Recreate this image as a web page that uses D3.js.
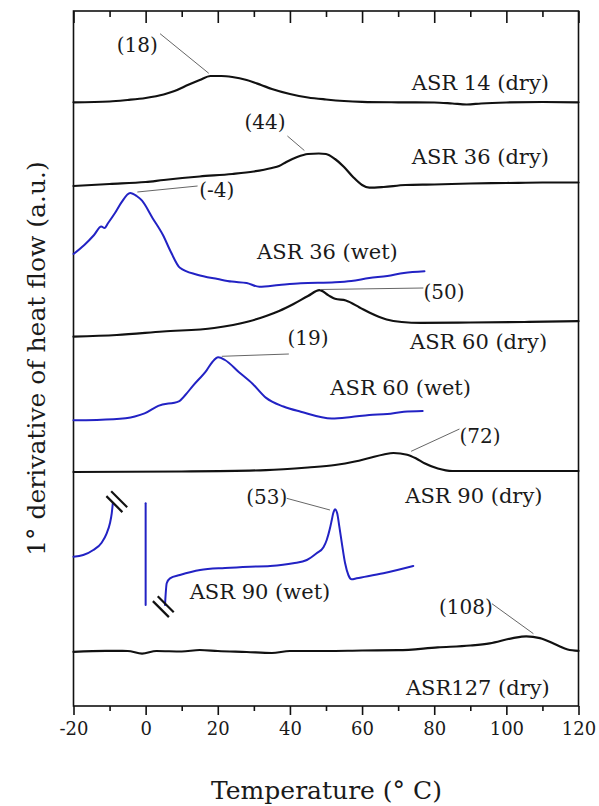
<!DOCTYPE html>
<html><head><meta charset="utf-8">
<script src="https://cdn.jsdelivr.net/npm/d3@7"></script>
<style>
body{margin:0;background:#fff}
svg{display:block}
text{font-family:"DejaVu Serif",serif;fill:#1a1a1a}
</style>
</head><body>
<svg id="c" width="599" height="806"></svg>
<script>
// ---------- data ----------
const xTickValues = [-20, 0, 20, 40, 60, 80, 100, 120];
const xMinorTicks = [-10, 10, 30, 50, 70, 90, 110];

const asr14DryT = [-20,-10,-5,0,5,8,12,15,18,21,24,28,32,35,40,45,50,55,60,70,80,85,89,93,100,110,120];
const asr14DryV = [603.7,604.5,606,608,611.5,615,621.5,626,630,630,629,626,621,617,612,608.5,606.5,605,604.2,603.7,603.5,602.5,601.5,602.5,603.5,604,603.7];

const asr36DryT = [-20,-10,0,5,15,24,30,35,37,39,42,45,48,50,52.5,55,57.5,60,62,66,72,80,90,100,110,120];
const asr36DryV = [520,522,524,526,529.5,532,534.5,538,540,544,549,552,552.5,552,547,539,529,521,518.3,519,521,521.5,522.5,523,523.5,523.5];

const asr36WetT = [-20,-17,-14.3,-12.3,-11.4,-10.4,-8.5,-6.7,-4.3,-2.5,-1,1.9,4.8,7,9.5,14.3,20,23.9,28,31.5,37,43,52.5,57,62,67,71.6,77.3];
const asr36WetV = [452,461,471,479.5,478,483,493,503.6,513,510,505.3,488.1,471,454,438.2,431.3,427,424.4,423,419.3,421,422.7,423.7,425,428,430,433,434.7];

const asr60DryT = [-20,-8,4.8,19,28.5,33.4,37,41,45,48.2,50.7,52.5,55.5,59.3,62,66.8,71,76.3,90,105,120];
const asr60DryV = [369.3,371,374.5,378,384.5,390,395,402,410,415.8,410.6,407.2,405.5,398.6,393.4,386.5,384,383.1,383.5,384,384.8];

const asr60WetT = [-20,-8.9,-3,-0.3,3.5,9.2,11,13.1,16.9,18.5,20.1,22,25.8,29.7,33.4,38.2,43,51.6,57,62,67,71.6,76.8];
const asr60WetV = [285.7,286.8,289.5,292.6,300.2,304.7,311,320.2,335.7,344,348.7,346,334,322,308.1,299.5,294.3,287.5,289,291,292,294.3,295];

const asr90DryT = [-20,10,33.4,45,52.5,58,62,66,68.7,72.5,75,77.3,81,85,100,120];
const asr90DryV = [234,234.5,235.8,238.5,241,244.5,248,251.5,253,251.3,247.5,242.7,237.5,235,235,235];

// ASR 90 (wet): three pieces separated by axis breaks
const asr90WetT1 = [-20,-17.3,-14.5,-12.2,-10.8,-9.9,-9.4,-9.1];
const asr90WetV1 = [149.3,151,156,163.3,172.7,182.7,192.7,202.7];
const asr90WetT2 = [0,0];
const asr90WetV2 = [202.7,101];
const asr90WetT3 = [5.37,5.84,6.75,9.5,15.1,22,28.9,34.5,40.9,44.7,47.4,49.3,50.2,51.1,51.6,52,52.5,53.1,53.7,54.4,55.3,56.2,57.1,58.5,65.9,74.2];
const asr90WetV3 = [101,122.7,127.7,131,136,138,139.3,140,142.7,146,152.7,158.7,166,177.7,186,192.7,196.7,192.7,179.3,162.7,142.7,131,126.7,127.7,132.7,140];
const breakT = [-8.0, 4.9];
const breakV = [204.3, 99.3];

const asr127DryT = [-20,-11,-5,-1,3,10,15,20,28,35,40,50,60,70,81,90,95.4,101.8,105.5,109.3,114,117,120];
const asr127DryV = [54.1,55.1,55,52.4,55,54.5,56,55,54,53,55,55,55.5,55.8,58.6,60.5,62.7,67.9,69.6,67.9,61,56.5,55.1];

// peak annotations
const peakLabels = ["(18)","(44)","(-4)","(50)","(19)","(72)","(53)","(108)"];
const peakTextT  = [-2.3, 33.1, 19.7, 82.7, 45.0, 92.7, 33.6, 88.8];
const peakTextV  = [661.2, 584, 516, 414, 367.6, 270.2, 209.3, 99];
const leadT1 = [4.0, 39.3, 14.4, 77.0, 39.7, 87.0, 39.1, 96.0];
const leadV1 = [672.3, 570, 520, 418, 352, 277, 207.7, 102.3];
const leadT2 = [17.5, 44.0, -2.3, 48.3, 21.1, 73.6, 51.1, 107.5];
const leadV2 = [632.7, 555.5, 514, 416.5, 349.7, 254.7, 196, 72.3];

// series labels
const seriesNames = ["ASR 14 (dry)","ASR 36 (dry)","ASR 36 (wet)","ASR 60 (dry)","ASR 60 (wet)","ASR 90 (dry)","ASR 90 (wet)","ASR127 (dry)"];
const nameT = [92.8, 92.8, 50.4, 92.3, 70.7, 91.0, 31.7, 92.1];
const nameV = [623.4, 549.3, 453.7, 364.2, 318.5, 210, 114, 18];

const xTitle = "Temperature (° C)";
const yTitle = "1° derivative of heat flow (a.u.)";

// ---------- drawing ----------
const svg = d3.select("#c");
const L = 73.5, R = 578.5, T = 11, B = 706;
const x = d3.scaleLinear().domain([-20, 120]).range([L, R]);
const y = d3.scaleLinear().domain([0, 695]).range([B, T]);

const BLACK = "#111", BLUE = "#2222c4";
const zip = (ts, vs) => ts.map((t, i) => ({t, v: vs[i]}));
const smooth = d3.line().x(d => x(d.t)).y(d => y(d.v)).curve(d3.curveMonotoneX);
const straight = d3.line().x(d => x(d.t)).y(d => y(d.v));

// frame
svg.append("rect").attr("x", L).attr("y", T).attr("width", R - L).attr("height", B - T)
  .attr("fill", "none").attr("stroke", "#111").attr("stroke-width", 1.6);

// bottom axis (outward ticks)
const gB = svg.append("g").attr("transform", `translate(0,${B})`)
  .call(d3.axisBottom(x).tickValues(xTickValues).tickSize(9).tickSizeOuter(0).tickFormat(d => String(d)).tickPadding(7));
const gBm = svg.append("g").attr("transform", `translate(0,${B})`)
  .call(d3.axisBottom(x).tickValues(xMinorTicks).tickSize(5).tickFormat(""));
// top axis (inward ticks)
const gT = svg.append("g").attr("transform", `translate(0,${T})`)
  .call(d3.axisBottom(x).tickValues(xTickValues).tickSize(12).tickFormat(""));
const gTm = svg.append("g").attr("transform", `translate(0,${T})`)
  .call(d3.axisBottom(x).tickValues(xMinorTicks).tickSize(6).tickFormat(""));
[gB, gBm, gT, gTm].forEach(g => {
  g.select(".domain").remove();
  g.selectAll("line").attr("stroke", "#111").attr("stroke-width", 1.6);
});
gB.selectAll("text").attr("font-family", "DejaVu Serif").attr("font-size", 18).attr("fill", "#1a1a1a");

// curves
const curves = [
  [asr14DryT, asr14DryV, BLACK, smooth],
  [asr36DryT, asr36DryV, BLACK, smooth],
  [asr36WetT, asr36WetV, BLUE, smooth],
  [asr60DryT, asr60DryV, BLACK, smooth],
  [asr60WetT, asr60WetV, BLUE, smooth],
  [asr90DryT, asr90DryV, BLACK, smooth],
  [asr90WetT1, asr90WetV1, BLUE, smooth],
  [asr90WetT2, asr90WetV2, BLUE, straight],
  [asr90WetT3, asr90WetV3, BLUE, smooth],
  [asr127DryT, asr127DryV, BLACK, smooth]
];
svg.append("g").selectAll("path").data(curves).join("path")
  .attr("d", c => c[3](zip(c[0], c[1])))
  .attr("fill", "none").attr("stroke", c => c[2])
  .attr("stroke-width", c => c[2] === BLACK ? 2.2 : 2)
  .attr("stroke-linejoin", "round").attr("stroke-linecap", "round");

// axis-break marks (double slash)
const brk = svg.append("g");
breakT.forEach((t, i) => {
  const cx = x(t), cy = y(breakV[i]);
  [-2.4, 2.4].forEach(off => {
    brk.append("line")
      .attr("x1", cx - 8 + off).attr("y1", cy - 8 - off)
      .attr("x2", cx + 8 + off).attr("y2", cy + 8 - off)
      .attr("stroke", "#111").attr("stroke-width", 2.2);
  });
});

// leaders + peak labels
const ann = svg.append("g");
peakLabels.forEach((lab, i) => {
  ann.append("line")
    .attr("x1", x(leadT1[i])).attr("y1", y(leadV1[i]))
    .attr("x2", x(leadT2[i])).attr("y2", y(leadV2[i]))
    .attr("stroke", "#666").attr("stroke-width", 1);
  ann.append("text").attr("x", x(peakTextT[i])).attr("y", y(peakTextV[i]))
    .attr("text-anchor", "middle").attr("dominant-baseline", "central")
    .attr("font-size", 20).text(lab);
});

// series names
seriesNames.forEach((n, i) => {
  svg.append("text").attr("x", x(nameT[i])).attr("y", y(nameV[i]))
    .attr("text-anchor", "middle").attr("dominant-baseline", "central")
    .attr("font-size", 21).text(n);
});

// axis titles
svg.append("text").attr("x", (L + R) / 2 + 0.5).attr("y", 790)
  .attr("text-anchor", "middle").attr("dominant-baseline", "central")
  .attr("font-size", 25).text(xTitle);
svg.append("text").attr("transform", `translate(36,${(T + B) / 2}) rotate(-90)`)
  .attr("text-anchor", "middle").attr("dominant-baseline", "central")
  .attr("font-size", 25).text(yTitle);
</script>
</body></html>
